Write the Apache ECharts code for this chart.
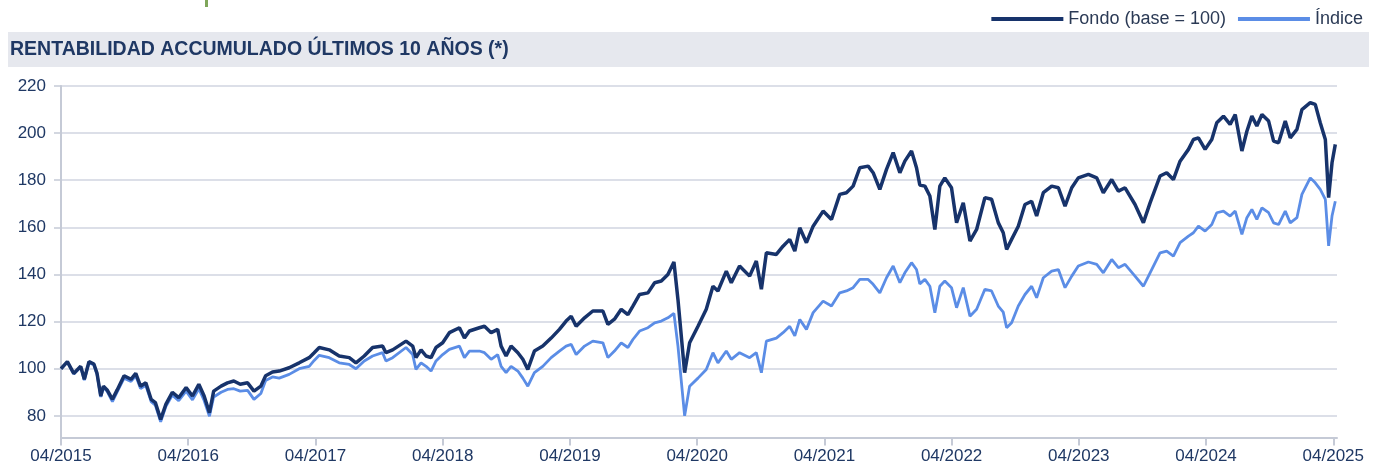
<!DOCTYPE html>
<html>
<head>
<meta charset="utf-8">
<script src="https://cdn.jsdelivr.net/npm/echarts@6/dist/echarts.min.js"></script>
<style>
  html, body { margin: 0; padding: 0; background: #fff; }
  #chart { width: 1385px; height: 468px; }
</style>
</head>
<body>
<div id="chart"></div>
<script>
// eje X: meses transcurridos desde 04/2015
const meses = [
  0, 0.6, 1.2, 1.86, 2.2, 2.64, 3.1, 3.4, 3.75, 4.0, 4.35, 4.85, 5.3, 5.95, 6.6, 7.05, 7.5, 8.0, 8.5, 8.9,
  9.4, 9.9, 10.5, 11.1, 11.8, 12.4, 13.0, 13.5, 14.0, 14.4, 15.1, 15.7, 16.3, 16.9, 17.6, 18.2, 18.85, 19.3, 19.95,
  20.58, 21.52, 22.47, 23.41, 23.88, 24.36, 25.3, 26.24, 27.19, 27.82, 28.6, 29.39, 30.33, 30.65, 31.28, 32.54,
  33.17, 33.48, 33.96, 34.43, 34.9, 35.37, 36.0, 36.63, 37.58, 38.05, 38.52, 39.46,
  39.94, 40.57, 41.19, 41.51, 41.98, 42.45, 43.09, 43.56, 44.03, 44.65, 45.44, 46.23, 47.01, 47.64, 48.12, 48.59,
  49.38, 50.16, 51.11, 51.58, 52.2, 52.84, 53.47, 53.94, 54.57, 55.36, 55.99, 56.62, 57.24, 57.81, 58.19, 58.82,
  59.29, 60.08,
  60.86, 61.49, 61.96, 62.75, 63.22, 64.0, 64.95, 65.58, 66.06, 66.53, 67.47, 68.1, 68.73, 69.21, 69.68, 70.31,
  70.94, 71.88, 72.67, 73.45, 74.08, 74.71, 75.34, 76.13, 76.6, 77.23, 77.86, 78.49, 79.12, 79.59, 80.22, 80.69,
  81.0, 81.48, 81.95, 82.42, 82.89, 83.36, 83.99, 84.47, 85.1, 85.73, 86.36, 87.14, 87.77, 88.4, 88.87, 89.19,
  89.66, 90.29, 90.92, 91.55, 92.02, 92.65, 93.44, 94.07, 94.7, 95.33, 95.95, 96.9, 97.69, 98.31, 99.1, 99.73, 100.36,
  101.3, 102.09, 102.72, 103.66, 104.29, 104.92, 105.55, 106.34, 106.81, 107.28, 107.91, 108.54, 109.01, 109.64,
  110.27, 110.75, 111.38, 111.85, 112.32, 112.79, 113.27, 113.9, 114.37, 114.84, 115.47, 115.94, 116.57, 117.04,
  117.83, 118.3, 118.77, 119.25, 119.56, 119.88, 120.19
]

const fondo = [
  100, 103, 98, 101, 95.5, 103, 102, 98, 88.4, 92.6, 91, 87, 91, 97, 95.5, 98, 92.6, 94, 87, 85.6,
  78.5, 85, 90, 87.7, 92, 88.4, 93.4, 88.4, 81.3, 90.5, 92.6, 94, 94.8, 93.4, 94, 90.5, 92.6, 97, 98.6,
  99, 100.4, 102.5, 104.7, 106.8, 109, 108, 105.4, 104.7, 102.5, 105.4, 109, 109.6, 106.8, 108, 111.7,
  109.6, 104.7, 108, 105.4, 104.7, 109, 111, 115.3, 117.4, 113, 116, 117.4,
  118, 115.3, 116.7, 109.6, 105.4, 109.6, 106.8, 104, 99.7, 107.5, 109.6, 113, 116.7, 120.2, 122.3, 118,
  121.6, 124.5, 124.5, 118.8, 121, 125.2, 123, 126.6, 131.5, 132.2, 136.5, 137.2, 140, 145.3, 129.4, 98.3,
  111, 118,
  125.2, 135, 133, 141.4, 136.5, 143.6, 139.3, 145.7, 133.7, 149.2, 148.5, 152, 154.9, 149.9, 159.8, 153.5,
  160.5, 166.9, 163.3, 174, 174.7, 177.5, 185.3, 186, 183.2, 176.1, 184.6, 191.7, 183.2, 188.1, 192.4, 185.3,
  178, 177.5, 173.3, 159.1, 177.5, 181, 176.8, 162, 170.4, 154.2, 159.1, 172.6, 171.9, 162, 157.7, 150.6,
  154.9, 160.5, 169.7, 171.1, 164.8, 174.7, 177.5, 176.8, 169, 176.8, 181, 182.5, 181, 174.7, 180.3, 175.4, 176.8,
  169.7, 162, 170.4, 181.8, 183.2, 180.3, 188.1, 193.1, 197.3, 198, 193.1, 197.3, 204.4, 207.2,
  203.7, 207.9, 192.4, 200.8, 207.2, 203, 207.9, 205.1, 196.6, 195.9, 205.1, 198, 201.6, 210,
  212.9, 212.2, 204.4, 197.3, 172.6, 187.4, 195.2
]

const indice = [
  100, 102.8, 97.8, 100.7, 95.2, 102.6, 101.6, 97.6, 88, 92, 90.4, 86, 90.2, 96, 94.6, 97, 91.6, 93, 86, 84.5,
  77.5, 84, 88.8, 86.4, 90.5, 86.8, 91.5, 86.5, 79.8, 88, 90, 91.2, 91.5, 90.5, 90.8, 87, 89.5, 95, 96.5,
  96, 97.6, 100, 101, 103.5, 105.7, 104.7, 102.5, 101.8, 100, 103.3, 105.4, 106.8, 103.3, 104.7, 109,
  106, 99.7, 102.5, 101, 99, 103.3, 106, 108.2, 109.6, 104.7, 107.5, 107.5,
  106.8, 104, 106, 101, 98.3, 101, 99, 96, 92.6, 98.3, 101, 104.7, 107.5, 109.6, 110.3, 106,
  109.6, 111.7, 111, 104.7, 107.5, 111, 109, 112.4, 116, 117.4, 119.5, 120.2, 121.6, 123.5, 109.6, 80,
  92.6, 96,
  99.7, 106.8, 102.5, 107.5, 104, 106.8, 104.7, 106.8, 98.3, 111.7, 113, 115.3, 118, 113.9, 120.9, 116.7,
  123.8, 128.7, 126.6, 132.2, 133, 134.4, 137.9, 137.9, 135.8, 132.2, 138.6, 143.6, 136.5, 140.7, 145, 142.1,
  136, 137.9, 135, 123.8, 135, 137.2, 134.4, 125.9, 134.4, 122.3, 125.2, 133.7, 133, 126.6, 124, 117.4,
  119.5, 126.6, 131.5, 135, 130.1, 138.6, 141.4, 142.1, 134.4, 139.3, 143.6, 145.3, 144.3, 140.7, 146.4, 142.9, 144.3,
  139.3, 135, 140.7, 149.2, 149.9, 147.8, 153.5, 156.3, 157.7, 160.5, 158.4, 161.2, 166.2, 166.9,
  164.8, 166.9, 157, 164.1, 167.6, 163.4, 168.3, 166.2, 161.9, 161.2, 166.9, 161.9, 164.1, 174,
  181, 178.9, 176.1, 171.9, 152.1, 164.8, 171.1
]

const etiquetasX = ['04/2015', '04/2016', '04/2017', '04/2018', '04/2019', '04/2020', '04/2021', '04/2022', '04/2023', '04/2024', '04/2025']
const ticksY = [80, 100, 120, 140, 160, 180, 200, 220]

const ticksX = etiquetasX.map((e, i) => i * 12)
const pares = (ys) => meses.map((m, i) => [m, ys[i]])

const azulOscuro = '#17336b'
const azulClaro = '#5b8de6'
const textoAzul = '#1f3864'
const fuente = '"Liberation Sans", Arial, sans-serif'

const chart = echarts.init(document.getElementById('chart'))

chart.setOption({
  animation: false,
  graphic: [
    {
      type: 'rect',
      z: -10,
      shape: { x: 8, y: 32, width: 1361, height: 35 },
      style: { fill: '#e6e8ee' },
    },
    {
      type: 'rect',
      shape: { x: 205, y: 0, width: 3, height: 7 },
      style: { fill: '#7fa65a' },
    },
  ],
  title: {
    text: 'RENTABILIDAD ACCUMULADO ÚLTIMOS 10 AÑOS (*)',
    left: 10,
    top: 40,
    padding: 0,
    textStyle: {
      color: textoAzul,
      fontFamily: fuente,
      fontSize: 19.5,
      fontWeight: 'bold',
    },
  },
  legend: {
    right: 17,
    top: 5,
    itemWidth: 72,
    itemHeight: 4,
    itemGap: 12,
    icon: 'rect',
    textStyle: { color: '#2b3a55', fontFamily: fuente, fontSize: 18 },
    data: ['Fondo (base = 100)', 'Índice'],
  },
  grid: {
    left: 61,
    right: 48,
    top: 86,
    bottom: 30.5,
  },
  xAxis: {
    type: 'value',
    min: 0,
    max: 120.35,
    axisLine: { lineStyle: { color: '#c5cad6', width: 2 } },
    axisTick: {
      customValues: ticksX,
      length: 8,
      lineStyle: { color: '#c5cad6', width: 2 },
    },
    axisLabel: {
      customValues: ticksX,
      formatter: (v) => etiquetasX[Math.round(v / 12)],
      color: textoAzul,
      fontFamily: fuente,
      fontSize: 17,
      margin: 10,
    },
    splitLine: { show: false },
  },
  yAxis: {
    type: 'value',
    min: 70.8,
    max: 220,
    axisLine: { show: true, lineStyle: { color: '#c5cad6', width: 2 } },
    axisTick: {
      show: true,
      customValues: ticksY,
      length: 7,
      lineStyle: { color: '#c5cad6', width: 1.5 },
    },
    axisLabel: {
      customValues: ticksY,
      color: textoAzul,
      fontFamily: fuente,
      fontSize: 17,
      margin: 15,
    },
    splitLine: { lineStyle: { color: '#d0d5e0', width: 1.5 } },
  },
  series: [
    {
      name: 'Fondo (base = 100)',
      type: 'line',
      data: pares(fondo),
      showSymbol: false,
      itemStyle: { color: azulOscuro },
      lineStyle: { color: azulOscuro, width: 3.5 },
      z: 3,
    },
    {
      name: 'Índice',
      type: 'line',
      data: pares(indice),
      showSymbol: false,
      itemStyle: { color: azulClaro },
      lineStyle: { color: azulClaro, width: 2.8 },
      z: 2,
    },
  ],
})
</script>
</body>
</html>
